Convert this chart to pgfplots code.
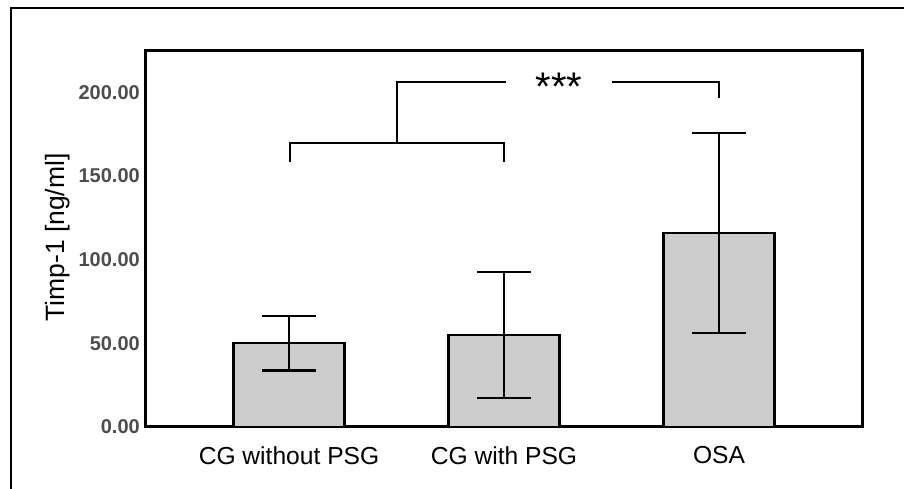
\documentclass[border=0pt]{standalone}
\usepackage{pgfplots}
\pgfplotsset{compat=1.18}
\usepackage{fontspec}
\setmainfont{Liberation Sans}
\definecolor{tickgray}{RGB}{77,77,77}
\definecolor{barfill}{RGB}{204,204,204}

\begin{document}
\begin{tikzpicture}
\useasboundingbox (0pt,0pt) rectangle (904pt,489pt);
% outer frame (only top and left sides visible)
\draw[line width=2.8pt] (11pt,-10pt) -- (11pt,481pt) -- (914pt,481pt);

\begin{axis}[
    at={(145pt,62pt)}, anchor=south west,
    width=717pt, height=376pt,
    scale only axis,
    axis line style={line width=3pt},
    xmin=145, xmax=862,
    ymin=0, ymax=224.6,
    xtick={289,504,719},
    xticklabels={CG without PSG, CG with PSG, OSA},
    ytick={0,50,100,150,200},
    yticklabels={0.00,50.00,100.00,150.00,200.00},
    major tick length=0pt,
    xticklabel style={font=\fontsize{24.6}{29}\selectfont, inner sep=0pt, yshift=-19pt},
    yticklabel style={font=\fontsize{20}{24}\selectfont\bfseries, text=tickgray, inner sep=0pt, xshift=-5pt},
    ylabel={Timp-1 [ng/ml]},
    ylabel style={font=\fontsize{26.5}{31}\selectfont, at={(axis description cs:-0.122,0.504)}, anchor=center},
    ybar, bar width=111,
    clip=false,
]
\addplot[fill=barfill, draw=black, line width=2.3pt,
    error bars/.cd, y dir=both, y explicit,
    error bar style={line width=2.5pt, black},
    error mark options={rotate=90, line width=2.5pt, mark size=27pt, black}]
coordinates {
    (289,50.0) +- (0,16.4)
    (504,55.0) +- (0,37.6)
    (719,115.9) +- (0,59.8)
};

% significance brackets
\draw[line width=2.5pt] (axis cs:290,158.3) -- (axis cs:290,169.7) -- (axis cs:504,169.7) -- (axis cs:504,158.3);
\draw[line width=2.5pt] (axis cs:397,169.7) -- (axis cs:397,206.1) -- (axis cs:506,206.1);
\draw[line width=2.5pt] (axis cs:612,206.1) -- (axis cs:719,206.1) -- (axis cs:719,196.5);
\node[font=\fontsize{40}{44}\selectfont] at (axis cs:559,203) {***};
\end{axis}
\end{tikzpicture}
\end{document}
